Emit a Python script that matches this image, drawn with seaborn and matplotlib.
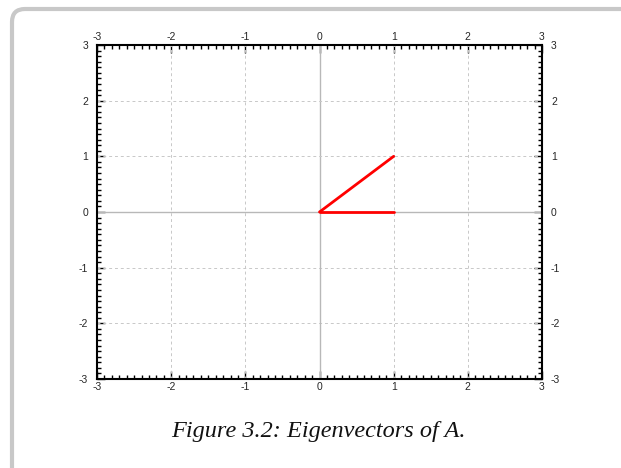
import numpy as np
import pandas as pd
import matplotlib
matplotlib.use("Agg")
import matplotlib.pyplot as plt
import seaborn as sns
from matplotlib.patches import FancyBboxPatch
from matplotlib.ticker import MultipleLocator

# Data: eigenvectors
vector_names = ["v1", "v1", "v2", "v2"]
vec_x = [0, 1, 0, 1]
vec_y = [0, 1, 0, 0]
tick_values = [-3, -2, -1, 0, 1, 2, 3]
caption = "Figure 3.2: Eigenvectors of A."

sns.set_style("white")
plt.rcParams['font.family'] = ['Liberation Sans', 'DejaVu Sans']

df = pd.DataFrame({"vector": vector_names, "x": vec_x, "y": vec_y})

fig = plt.figure(figsize=(6.21, 4.68), dpi=100)
ax = fig.add_axes([97/621, 1-379/468, (542-97)/621, (379-45)/468])

# grid
for t in tick_values:
    if t == 0:
        ax.axvline(t, color='#b8b8b8', lw=1.0, zorder=1)
        ax.axhline(t, color='#b8b8b8', lw=1.0, zorder=1)
    else:
        ax.axvline(t, color='#c8c8c8', lw=0.7, ls=(0, (3, 3)), zorder=1)
        ax.axhline(t, color='#c8c8c8', lw=0.7, ls=(0, (3, 3)), zorder=1)

sns.lineplot(data=df, x="x", y="y", units="vector", estimator=None, sort=False,
             color='red', lw=2.0, ax=ax, zorder=3)

ax.set_xlim(-3, 3)
ax.set_ylim(-3, 3)
ax.set_xticks(tick_values)
ax.set_yticks(tick_values)
ax.set_xticklabels([str(t) for t in tick_values])
ax.set_yticklabels([str(t) for t in tick_values])
ax.xaxis.set_minor_locator(MultipleLocator(0.1))
ax.yaxis.set_minor_locator(MultipleLocator(0.1))
ax.tick_params(which='both', direction='in', top=True, bottom=True, left=True, right=True,
               labeltop=True, labelbottom=True, labelleft=True, labelright=True,
               color='black', width=1.0)
ax.tick_params(which='major', length=5.5, labelsize=7.5)
ax.tick_params(axis='x', which='major', pad=2.5)
ax.tick_params(axis='y', which='major', pad=6.5)
ax.tick_params(which='minor', length=3)
ax.set_xlabel("")
ax.set_ylabel("")
for s in ax.spines.values():
    s.set_color('black')
    s.set_linewidth(1.5)
    s.set_visible(True)

# frame border
box = FancyBboxPatch((0.12, -1.0), 8.0, 4.6 + 1.0 - 0.01,
                     boxstyle="round,pad=0,rounding_size=0.13",
                     transform=fig.dpi_scale_trans, fill=False,
                     edgecolor='#c8c8c8', lw=3.0, clip_on=False)
fig.patches.append(box)

fig.text(318/621, 1-432/468, caption, ha='center', va='center',
         fontsize=17.5, style='italic', family=['Liberation Serif', 'DejaVu Serif'],
         color='#111111')

fig.savefig("out.png", dpi=100)
